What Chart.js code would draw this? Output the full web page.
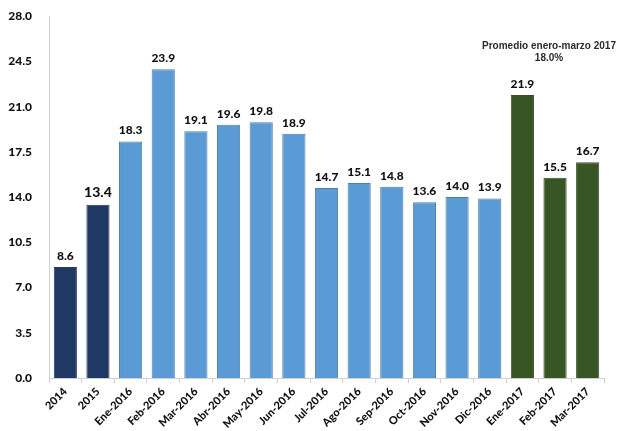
<!DOCTYPE html>
<html>
<head>
<meta charset="utf-8">
<script src="https://cdn.jsdelivr.net/npm/chart.js@4/dist/chart.umd.min.js"></script>
<style>
  html, body { margin: 0; padding: 0; background: #fff; }
  #wrap { width: 622px; height: 431px; }
</style>
</head>
<body>
<div id="wrap"><canvas id="bar-chart" width="622" height="431"></canvas></div>
<script>
// periodos y valores
var periodos = ['2014', '2015', 'Ene-2016', 'Feb-2016', 'Mar-2016', 'Abr-2016', 'May-2016', 'Jun-2016',
  'Jul-2016', 'Ago-2016', 'Sep-2016', 'Oct-2016', 'Nov-2016', 'Dic-2016', 'Ene-2017', 'Feb-2017', 'Mar-2017'];
var valores = [8.6, 13.4, 18.3, 23.9, 19.1, 19.6, 19.8, 18.9, 14.7, 15.1, 14.8, 13.6, 14.0, 13.9, 21.9, 15.5, 16.7];
// tipo de barra: 0 anual, 1 mensual 2016, 2 mensual 2017
var grupos = [0, 0, 1, 1, 1, 1, 1, 1, 1, 1, 1, 1, 1, 1, 2, 2, 2];
var ticksY = [0, 3.5, 7, 10.5, 14, 17.5, 21, 24.5, 28];
var nota = ['Promedio enero-marzo 2017', '18.0%'];

var relleno = ['#1f3864', '#5b9bd5', '#375623'];
var borde = ['#2a3a55', '#4f7fa8', '#3a4d2c'];

var fuente = "Lato, 'Open Sans', 'Liberation Sans', sans-serif";

// etiquetas de valor sobre cada barra + nota del promedio
var etiquetas = {
  id: 'etiquetas',
  afterDatasetsDraw: function(chart) {
    var ctx = chart.ctx;
    var meta = chart.getDatasetMeta(0);
    ctx.save();
    ctx.fillStyle = '#111';
    ctx.textAlign = 'center';
    ctx.textBaseline = 'bottom';
    meta.data.forEach(function(bar, i) {
      ctx.font = (i === 1 ? '900 14px ' : '900 12px ') + fuente;
      ctx.fillText(valores[i].toFixed(1), bar.x, bar.y - 5);
    });
    ctx.fillStyle = '#2b2b2b';
    ctx.font = "bold 10px 'Liberation Sans', Arial, sans-serif";
    ctx.textBaseline = 'middle';
    var cx = meta.data[15].x - 6;
    ctx.fillText(nota[0], cx, 46);
    ctx.fillText(nota[1], cx, 58);
    ctx.restore();
  }
};

var config = {
  type: 'bar',
  data: {
    labels: periodos,
    datasets: [{
      data: valores,
      backgroundColor: grupos.map(function(g) { return relleno[g]; }),
      borderColor: grupos.map(function(g) { return borde[g]; }),
      borderWidth: 1,
      barPercentage: 0.71,
      categoryPercentage: 1
    }]
  },
  options: {
    responsive: false,
    animation: false,
    layout: { padding: { top: 16, right: 18, left: 0, bottom: 0 } },
    plugins: {
      legend: { display: false },
      tooltip: { enabled: false }
    },
    scales: {
      x: {
        offset: true,
        grid: { display: true, drawOnChartArea: false, offset: true, tickLength: 5, color: '#d0d0d0' },
        border: { display: true, color: '#d0d0d0' },
        ticks: {
          minRotation: 45, maxRotation: 45, padding: 2,
          color: '#111',
          font: { family: fuente, size: 11, weight: '900' }
        },
        afterFit: function(scale) { scale.height = 53; }
      },
      y: {
        min: 0, max: 28,
        afterBuildTicks: function(scale) {
          scale.ticks = ticksY.map(function(v) { return { value: v }; });
        },
        grid: { display: false },
        border: { display: true, color: '#d0d0d0' },
        ticks: {
          padding: 9,
          color: '#111',
          font: { family: fuente, size: 12, weight: '900' },
          callback: function(v) { return Number(v).toFixed(1); }
        },
        afterFit: function(scale) { scale.width = 49; }
      }
    }
  },
  plugins: [etiquetas]
};

var ctx = document.getElementById('bar-chart').getContext('2d');
window.myBar = new Chart(ctx, config);
</script>
</body>
</html>
